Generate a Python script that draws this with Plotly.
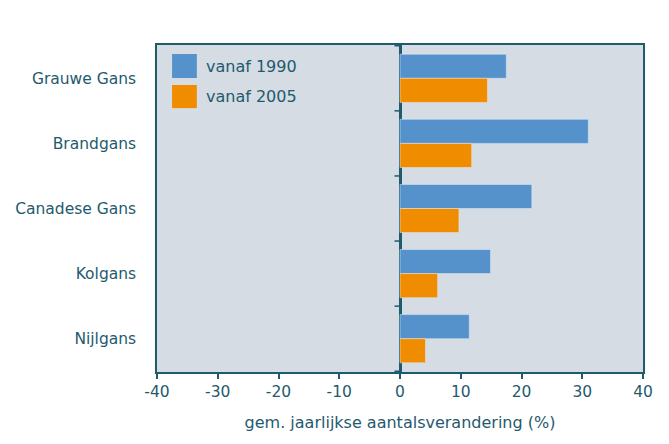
import plotly.graph_objects as go

categories = ["Grauwe Gans", "Brandgans", "Canadese Gans", "Kolgans", "Nijlgans"]
series_names = ["vanaf 1990", "vanaf 2005"]
vanaf_1990 = [17.5, 31.0, 21.7, 14.9, 11.4]
vanaf_2005 = [14.4, 11.8, 9.7, 6.2, 4.2]
x_ticks = [-40, -30, -20, -10, 0, 10, 20, 30, 40]
x_title = "gem. jaarlijkse aantalsverandering (%)"

BLUE = "#5592cb"
ORANGE = "#f08c00"
BG = "#d5dce4"
TEXT = "#1f5a6e"
LINE = "#1f5a6e"
FONT = "DejaVu Sans"
FS = 15.5

fig = go.Figure()
fig.add_trace(go.Bar(y=categories, x=vanaf_1990, orientation="h", marker_color=BLUE,
                     name=series_names[0], showlegend=False))
fig.add_trace(go.Bar(y=categories, x=vanaf_2005, orientation="h", marker_color=ORANGE,
                     name=series_names[1], showlegend=False))

# small category-separator ticks at the zero line
for i in range(len(categories) + 1):
    fig.add_shape(type="line", xref="x", yref="y", x0=-0.9, x1=0, y0=i - 0.5, y1=i - 0.5,
                  line=dict(color=LINE, width=1.5))

# manual legend
legend_rows = [(0.9725, 0.899, BLUE), (0.8777, 0.807, ORANGE)]
for (ytop, ybot, col), name in zip(legend_rows, series_names):
    fig.add_shape(type="rect", xref="paper", yref="paper", x0=0.031, x1=0.082,
                  y0=ybot, y1=ytop, fillcolor=col, line=dict(width=0))
    fig.add_annotation(xref="paper", yref="paper", x=0.096, y=(ytop + ybot) / 2,
                       text=name, showarrow=False, xanchor="left", yanchor="middle",
                       font=dict(family=FONT, size=16, color=TEXT))

fig.update_layout(
    width=669, height=444,
    margin=dict(l=157, r=26, t=45, b=72),
    paper_bgcolor="white", plot_bgcolor=BG,
    barmode="group", bargap=0.26, bargroupgap=0,
    font=dict(family=FONT, size=FS, color=TEXT),
    showlegend=False,
)
fig.update_xaxes(range=[-40, 40], tickvals=x_ticks, ticktext=[str(v) for v in x_ticks],
                 showgrid=False, showline=True, linecolor=LINE, linewidth=1.5, mirror=True,
                 ticks="outside", ticklen=5, tickcolor=LINE, tickwidth=1.5,
                 zeroline=True, zerolinecolor=LINE, zerolinewidth=2.5,
                 title=dict(text=x_title, standoff=16, font=dict(size=16, color=TEXT)),
                 tickfont=dict(size=FS, color=TEXT))
fig.update_yaxes(autorange="reversed", showgrid=False, showline=True, linecolor=LINE,
                 linewidth=1.5, mirror=True, ticks="outside", ticklen=16,
                 tickcolor="rgba(0,0,0,0)", tickfont=dict(size=FS, color=TEXT),
                 zeroline=False)

fig.write_html("out.html", config={"displayModeBar": False},
               post_script="document.body.style.margin='0';document.body.style.overflow='hidden';")
